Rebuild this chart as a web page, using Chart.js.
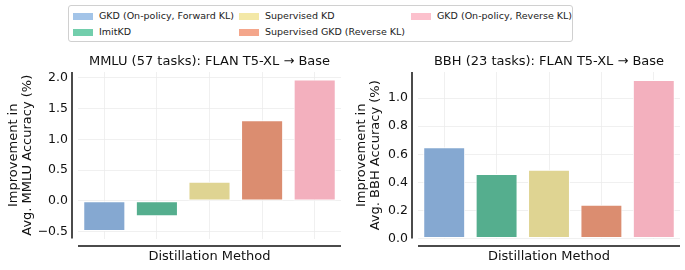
<!DOCTYPE html>
<html>
<head>
<meta charset="utf-8">
<script src="https://cdn.jsdelivr.net/npm/chart.js@4/dist/chart.umd.min.js"></script>
<style>
  html,body{margin:0;padding:0;background:#fff;}
  body{width:685px;height:270px;position:relative;overflow:hidden;font-family:"DejaVu Sans",sans-serif;}
  #legend{position:absolute;left:68px;top:5px;width:503px;height:35px;border:1px solid #d0d0d0;border-radius:3px;box-sizing:content-box;}
  .li{position:absolute;font-family:"DejaVu Sans",sans-serif;font-size:9.5px;color:#222;white-space:nowrap;line-height:11px;}
  .sw{position:absolute;width:20px;height:7px;}
  canvas{position:absolute;}
</style>
</head>
<body>
<div id="legend"></div>
<div style="position:absolute;left:0;top:50px;width:345px;height:220px;"><canvas id="c1"></canvas></div>
<div style="position:absolute;left:345px;top:50px;width:340px;height:220px;"><canvas id="c2"></canvas></div>
<script>
// ---- data ----
const methods = ["GKD (On-policy, Forward KL)", "ImitKD", "Supervised KD", "Supervised GKD (Reverse KL)", "GKD (On-policy, Reverse KL)"];
const mmluValues = [-0.49, -0.25, 0.31, 1.31, 1.97];
const bbhValues = [0.65, 0.46, 0.49, 0.24, 1.13];
const mmluTicks = [-0.5, 0.0, 0.5, 1.0, 1.5, 2.0];
const bbhTicks = [0.0, 0.2, 0.4, 0.6, 0.8, 1.0];
const barColors = ["#85a8d1", "#55ae8e", "#dfd492", "#db8d70", "#f3b0be"];
const legendColors = ["#a3c4e8", "#72ceac", "#f3e8a7", "#f4a68b", "#fcc1cd"];

// ---- legend (column-major, 3 columns) ----
const legendPos = [[4,6],[4,22],[170,6],[170,22],[342,6]];
const lg = document.getElementById('legend');
methods.forEach((m,i)=>{
  const sw = document.createElement('div');
  sw.className='sw'; sw.style.left=legendPos[i][0]+'px'; sw.style.top=(legendPos[i][1]+0.5)+'px';
  sw.style.background=legendColors[i];
  lg.appendChild(sw);
  const t = document.createElement('div');
  t.className='li'; t.style.left=(legendPos[i][0]+26)+'px'; t.style.top=(legendPos[i][1]-2)+'px';
  t.textContent=m; lg.appendChild(t);
});

const FONT = "'DejaVu Sans', sans-serif";
const spinePlugin = {
  id:'spines',
  afterDraw(chart){
    const {ctx, chartArea:a} = chart;
    ctx.save();
    ctx.strokeStyle='#111'; ctx.lineWidth=1.5; ctx.lineCap='butt';
    ctx.beginPath();
    ctx.moveTo(a.left-6, a.top); ctx.lineTo(a.left-6, a.bottom);
    ctx.moveTo(a.left, a.bottom+7.5); ctx.lineTo(a.right, a.bottom+7.5);
    ctx.stroke();
    ctx.restore();
  }
};

function fmt(v){ const s=Math.abs(v).toFixed(1); return v<0?'\u2212'+s:s; }

function makeChart(id, values, ticks, yMin, yMax, title, yTitle, axisW, padRight, yTitlePad){
  new Chart(document.getElementById(id), {
    type:'bar',
    data:{labels:methods, datasets:[{data:values, backgroundColor:barColors, borderColor:'#ffffff', borderWidth:1, borderSkipped:false, barPercentage:0.8, categoryPercentage:1.0}]},
    options:{
      responsive:true, maintainAspectRatio:false, animation:false,
      layout:{padding:{left:0,right:padRight,top:0,bottom:0}},
      plugins:{ legend:{display:false}, tooltip:{enabled:false}, title:{display:false} },
      scales:{
        x:{
          offset:true,
          grid:{offset:false, color:'#ececec', lineWidth:0.8, drawTicks:false},
          border:{display:false},
          ticks:{display:false},
          title:{display:true, text:'Distillation Method', color:'#111', font:{family:FONT,size:13,lineHeight:1.2}, padding:{top:0,bottom:5.2}},
          afterFit(s){ s.height=31.5; s.paddingLeft=0; s.paddingRight=0; }
        },
        xTop:{
          type:'category', position:'top', offset:true,
          grid:{display:false, drawTicks:false},
          border:{display:false},
          ticks:{display:false},
          title:{display:true, text:title, color:'#111', font:{family:FONT,size:13,lineHeight:1.2}, padding:{top:4.2,bottom:0}},
          afterFit(s){ s.height=22; s.paddingLeft=0; s.paddingRight=0; }
        },
        y:{
          min:yMin, max:yMax,
          grid:{color:'#ececec', lineWidth:0.8, drawTicks:false},
          border:{display:false},
          afterBuildTicks(s){ s.ticks = ticks.map(v=>({value:v})); },
          ticks:{color:'#111', font:{family:FONT,size:12.5}, padding:10, callback:(v)=>fmt(v)},
          title:{display:true, text:yTitle, color:'#111', font:{family:FONT,size:13,lineHeight:1.08}, padding:{top:yTitlePad,bottom:0}},
          afterFit(s){ s.width=axisW; s.paddingTop=0; s.paddingBottom=0; }
        }
      }
    },
    plugins:[spinePlugin]
  });
}

makeChart('c1', mmluValues, mmluTicks, -0.613, 2.093, 'MMLU (57 tasks): FLAN T5-XL \u2192 Base', ['Improvement in','Avg. MMLU Accuracy (%)'], 78, 4, 6.5);
makeChart('c2', bbhValues, bbhTicks, 0, 1.1865, 'BBH (23 tasks): FLAN T5-XL \u2192 Base', ['Improvement in','Avg. BBH Accuracy (%)'], 73, 5, 10);
</script>
</body>
</html>
